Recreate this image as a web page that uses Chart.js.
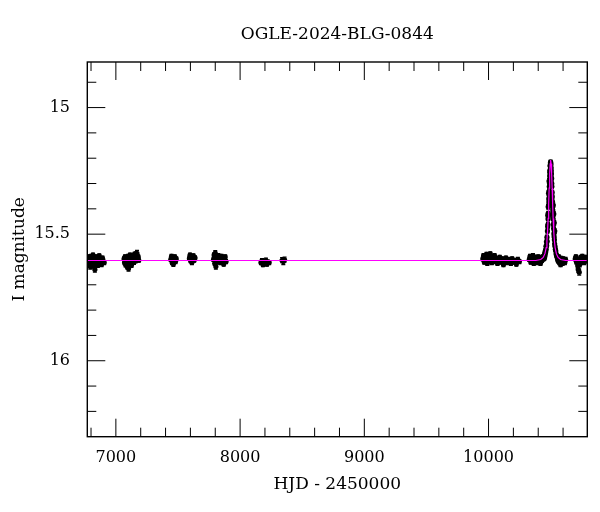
<!DOCTYPE html>
<html>
<head>
<meta charset="utf-8">
<script src="https://cdn.jsdelivr.net/npm/chart.js@4.4.0/dist/chart.umd.min.js"></script>
<style>
  html, body { margin: 0; padding: 0; background: #fff; }
  #wrap { width: 600px; height: 512px; }
</style>
</head>
<body>
<div id="wrap"><canvas id="lc" width="600" height="512"></canvas></div>
<script>
// photometry per season: [HJD - 2450000, I mag, error]
const season2014 = [
  [6772,15.598,0.008],[6776,15.612,0.008],[6779,15.590,0.008],[6783,15.605,0.008],
  [6787,15.620,0.009],[6790,15.596,0.008],[6794,15.628,0.010],[6797,15.609,0.008],
  [6801,15.588,0.008],[6805,15.615,0.009],[6808,15.600,0.008],[6812,15.625,0.009],
  [6816,15.583,0.008],[6820,15.606,0.008],[6824,15.594,0.008],[6828,15.618,0.009],
  [6831,15.640,0.010],[6835,15.602,0.008],[6840,15.590,0.008],[6845,15.611,0.008],
  [6850,15.597,0.008],[6855,15.622,0.009],[6860,15.604,0.008],[6866,15.586,0.008],
  [6872,15.613,0.008],[6878,15.600,0.008],[6885,15.619,0.009],[6892,15.595,0.008],
  [6899,15.607,0.008],[6906,15.612,0.008]
];
const season2015 = [
  [7066,15.598,0.008],[7070,15.612,0.008],[7074,15.590,0.008],[7078,15.620,0.009],
  [7082,15.603,0.008],[7086,15.594,0.008],[7090,15.628,0.009],[7094,15.608,0.008],
  [7098,15.588,0.008],[7102,15.636,0.010],[7106,15.615,0.008],[7110,15.599,0.008],
  [7114,15.583,0.008],[7118,15.610,0.008],[7122,15.597,0.008],[7126,15.622,0.009],
  [7130,15.605,0.008],[7134,15.586,0.008],[7138,15.601,0.008],[7142,15.590,0.008],
  [7146,15.611,0.008],[7150,15.580,0.008],[7154,15.598,0.008],[7158,15.578,0.008],
  [7162,15.605,0.008],[7166,15.584,0.008],[7170,15.576,0.012],[7175,15.595,0.008],
  [7180,15.590,0.008],[7184,15.603,0.008]
];
const season2016a = [
  [7442,15.600,0.008],[7448,15.588,0.008],[7453,15.612,0.008],[7458,15.596,0.008],
  [7463,15.618,0.009],[7468,15.604,0.008],[7474,15.590,0.008],[7480,15.608,0.008],
  [7486,15.598,0.008]
];
const season2016b = [
  [7592,15.596,0.008],[7597,15.583,0.008],[7602,15.605,0.008],[7607,15.590,0.008],
  [7612,15.612,0.008],[7618,15.598,0.008],[7624,15.586,0.008],[7630,15.603,0.008],
  [7637,15.594,0.008]
];
const season2017 = [
  [7786,15.600,0.008],[7791,15.582,0.008],[7796,15.615,0.008],[7800,15.575,0.010],
  [7805,15.628,0.010],[7810,15.597,0.008],[7815,15.590,0.008],[7820,15.610,0.008],
  [7825,15.585,0.008],[7830,15.604,0.008],[7840,15.596,0.008],[7845,15.612,0.008],
  [7850,15.588,0.008],[7856,15.605,0.008],[7862,15.593,0.008],[7868,15.618,0.008],
  [7874,15.600,0.008],[7880,15.590,0.008],[7887,15.608,0.008]
];
const season2018 = [
  [8168,15.612,0.008],[8176,15.605,0.008],[8184,15.620,0.008],[8192,15.608,0.008],
  [8200,15.615,0.008],[8208,15.603,0.008],[8216,15.618,0.008],[8225,15.610,0.008],
  [8234,15.612,0.008]
];
const season2018b = [
  [8338,15.603,0.010],[8348,15.608,0.012],[8358,15.601,0.010]
];
const season2023 = [
  [9954,15.598,0.008],[9960,15.585,0.008],[9966,15.610,0.008],[9972,15.592,0.008],
  [9978,15.604,0.008],[9984,15.580,0.008],[9990,15.615,0.008],[9996,15.598,0.008],
  [10002,15.588,0.008],[10008,15.606,0.008],[10014,15.578,0.008],[10020,15.600,0.008],
  [10026,15.612,0.008],[10032,15.590,0.008],[10040,15.603,0.008],[10048,15.585,0.008],
  [10056,15.608,0.008],[10064,15.596,0.008],[10072,15.615,0.008],[10080,15.600,0.008],
  [10090,15.592,0.008],[10100,15.610,0.008],[10110,15.598,0.008],[10120,15.620,0.008],
  [10130,15.603,0.008],[10140,15.595,0.008],[10150,15.612,0.008],[10160,15.600,0.008],
  [10170,15.606,0.008],[10180,15.615,0.008],[10190,15.598,0.008],[10200,15.610,0.008],
  [10212,15.604,0.008],[10224,15.618,0.008],[10236,15.600,0.008],[10248,15.608,0.008]
];
const season2024 = [
  [10328,15.600,0.008],[10334,15.588,0.008],[10340,15.610,0.008],[10346,15.596,0.008],
  [10352,15.605,0.008],[10358,15.585,0.008],[10364,15.615,0.008],[10370,15.598,0.008],
  [10376,15.606,0.008],[10382,15.592,0.008],[10388,15.612,0.008],[10394,15.600,0.008],
  [10400,15.590,0.008],[10406,15.608,0.008],[10412,15.598,0.008],[10418,15.615,0.008],
  [10424,15.594,0.008],[10430,15.604,0.008],[10436,15.590,0.008],[10442,15.598,0.008],
  [10446,15.588,0.008],[10448,15.596,0.008],[10450,15.582,0.008],[10452,15.590,0.008],
  [10454,15.572,0.008],[10456,15.580,0.008],[10458,15.565,0.008],[10460,15.570,0.008],
  [10462,15.548,0.008],[10464,15.560,0.008],[10466,15.530,0.008],[10468,15.545,0.008],
  [10470,15.512,0.008],[10472,15.528,0.008],[10474,15.488,0.008],[10476,15.470,0.008],
  [10477,15.425,0.009],[10478,15.462,0.008],[10479,15.440,0.008],[10480,15.392,0.009],
  [10481,15.418,0.008],[10482,15.428,0.008],[10483,15.338,0.009],[10484,15.385,0.008],
  [10485,15.360,0.008],[10486,15.372,0.008],[10487,15.290,0.009],[10488,15.330,0.008],
  [10489,15.312,0.008],[10490,15.298,0.008],[10492,15.270,0.008],[10493,15.255,0.008],
  [10494,15.248,0.008],[10496,15.228,0.008],[10497,15.232,0.008],[10498,15.218,0.008],
  [10500,15.215,0.008],[10501,15.220,0.008],[10502,15.226,0.008],[10504,15.238,0.008],
  [10505,15.250,0.008],[10506,15.262,0.008],[10508,15.280,0.008],[10509,15.300,0.008],
  [10510,15.312,0.008],[10512,15.335,0.008],[10513,15.352,0.008],[10514,15.370,0.008],
  [10516,15.392,0.008],[10517,15.405,0.008],[10518,15.420,0.008],[10520,15.440,0.008],
  [10521,15.385,0.009],[10522,15.462,0.008],[10524,15.478,0.008],[10525,15.420,0.009],
  [10526,15.498,0.008],[10528,15.510,0.008],[10529,15.455,0.009],[10530,15.522,0.008],
  [10532,15.538,0.008],[10533,15.488,0.009],[10535,15.548,0.008],[10538,15.560,0.008],
  [10541,15.566,0.008],[10544,15.578,0.008],[10548,15.585,0.008],[10552,15.590,0.008],
  [10555,15.598,0.008],[10560,15.606,0.008],[10565,15.590,0.008],[10570,15.612,0.008],
  [10575,15.600,0.008],[10580,15.620,0.008],[10585,15.596,0.008],[10590,15.608,0.008],
  [10596,15.615,0.008],[10602,15.598,0.008],[10608,15.605,0.008],[10614,15.612,0.008],
  [10620,15.600,0.008]
];
const season2025 = [
  [10698,15.598,0.008],[10703,15.590,0.008],[10708,15.610,0.008],[10713,15.600,0.008],
  [10718,15.625,0.009],[10722,15.640,0.010],[10726,15.615,0.008],[10730,15.650,0.012],
  [10734,15.620,0.009],[10738,15.605,0.008],[10742,15.592,0.008],[10746,15.612,0.008],
  [10750,15.600,0.008],[10755,15.588,0.008],[10760,15.606,0.008],[10765,15.596,0.008],
  [10770,15.612,0.008],[10776,15.600,0.008],[10782,15.592,0.008],[10788,15.605,0.008]
];

// microlensing model curve
const modelCurve = [
  [6770,15.604],[10380,15.604],[10420,15.600],[10440,15.592],[10454,15.577],
  [10464,15.553],[10470,15.525],[10475,15.490],[10480,15.438],[10484,15.380],
  [10488,15.318],[10492,15.262],[10496,15.222],[10500,15.207],[10504,15.222],
  [10508,15.262],[10512,15.318],[10516,15.380],[10520,15.438],[10525,15.490],
  [10530,15.525],[10536,15.553],[10546,15.577],[10560,15.592],[10580,15.600],
  [10620,15.604],[10795,15.604]
];

const xMajor = [7000, 8000, 9000, 10000];
const xMinor = [6800, 7200, 7400, 7600, 7800, 8200, 8400, 8600, 8800,
                9200, 9400, 9600, 9800, 10200, 10400, 10600];
const yMajor = [15, 15.5, 16];
const yMinor = [14.9, 15.1, 15.2, 15.3, 15.4, 15.6, 15.7, 15.8, 15.9, 16.1, 16.2];

const seasons = [season2014, season2015, season2016a, season2016b, season2017,
                 season2018, season2018b, season2023, season2024, season2025];
const obs = [];
seasons.forEach(s => s.forEach(p => obs.push({ x: p[0], y: p[1], err: p[2] })));
const model = modelCurve.map(p => ({ x: p[0], y: p[1] }));

const serif = 'DejaVu Serif';

// error bars under the dots
const errorBars = {
  id: 'errorBars',
  beforeDatasetsDraw(chart) {
    const { ctx, chartArea: a, scales: { x, y } } = chart;
    const ds = chart.data.datasets[1].data;
    ctx.save();
    ctx.beginPath();
    ctx.rect(a.left, a.top, a.width, a.height);
    ctx.clip();
    ctx.strokeStyle = '#000';
    ctx.lineWidth = 1.2;
    ctx.beginPath();
    ds.forEach(d => {
      const px = x.getPixelForValue(d.x);
      const y1 = y.getPixelForValue(d.y - d.err);
      const y2 = y.getPixelForValue(d.y + d.err);
      ctx.moveTo(px, y1); ctx.lineTo(px, y2);
      ctx.moveTo(px - 2, y1); ctx.lineTo(px + 2, y1);
      ctx.moveTo(px - 2, y2); ctx.lineTo(px + 2, y2);
    });
    ctx.stroke();
    ctx.restore();
  }
};

// box + inward ticks on all four sides
const frameTicks = {
  id: 'frameTicks',
  afterDraw(chart) {
    const { ctx, chartArea: a, scales: { x, y } } = chart;
    ctx.save();
    ctx.strokeStyle = '#000';
    ctx.lineWidth = 1;
    ctx.beginPath();
    const xt = (v, len) => {
      const p = x.getPixelForValue(v);
      ctx.moveTo(p, a.bottom); ctx.lineTo(p, a.bottom - len);
      ctx.moveTo(p, a.top); ctx.lineTo(p, a.top + len);
    };
    const yt = (v, len) => {
      const p = y.getPixelForValue(v);
      ctx.moveTo(a.left, p); ctx.lineTo(a.left + len, p);
      ctx.moveTo(a.right, p); ctx.lineTo(a.right - len, p);
    };
    xMajor.forEach(v => xt(v, 18));
    xMinor.forEach(v => xt(v, 9));
    yMajor.forEach(v => yt(v, 18));
    yMinor.forEach(v => yt(v, 9));
    ctx.stroke();
    ctx.lineWidth = 1.4;
    ctx.strokeRect(a.left, a.top, a.width, a.height);
    ctx.restore();
  }
};

new Chart(document.getElementById('lc'), {
  type: 'scatter',
  data: {
    datasets: [
      {
        label: 'model',
        data: model,
        showLine: true,
        borderColor: '#ff00ff',
        borderWidth: 1.2,
        pointRadius: 0,
        tension: 0
      },
      {
        label: 'OGLE',
        data: obs,
        backgroundColor: '#000',
        borderWidth: 0,
        pointRadius: 2.6
      }
    ]
  },
  options: {
    responsive: false,
    animation: false,
    devicePixelRatio: 1,
    layout: { padding: { left: 0, right: 12.7, top: 0, bottom: 0 } },
    plugins: {
      legend: { display: false },
      tooltip: { enabled: false },
      title: {
        display: true,
        fullSize: false,
        text: 'OGLE-2024-BLG-0844',
        color: '#000',
        font: { family: serif, size: 17, weight: 'normal' },
        padding: { top: 24.8, bottom: 16.8 }
      }
    },
    scales: {
      x: {
        type: 'linear',
        min: 6770,
        max: 10795,
        grid: { display: false },
        border: { display: false },
        afterBuildTicks: s => { s.ticks = xMajor.map(v => ({ value: v })); },
        afterFit: s => { s.height = 75.3; },
        ticks: {
          autoSkip: false,
          maxRotation: 0,
          padding: 3.4,
          color: '#000',
          font: { family: serif, size: 16 },
          callback: v => String(v)
        },
        title: {
          display: true,
          text: 'HJD - 2450000',
          color: '#000',
          font: { family: serif, size: 17 },
          padding: { top: 0, bottom: 16.8 }
        }
      },
      y: {
        type: 'linear',
        reverse: true,
        min: 14.82,
        max: 16.3,
        grid: { display: false },
        border: { display: false },
        afterBuildTicks: s => { s.ticks = yMajor.map(v => ({ value: v })); },
        afterFit: s => { s.width = 87.3; },
        ticks: {
          autoSkip: false,
          padding: 9.3,
          color: '#000',
          font: { family: serif, size: 16 },
          callback: v => String(v)
        },
        title: {
          display: true,
          text: 'I magnitude',
          color: '#000',
          font: { family: serif, size: 17 },
          padding: { top: 9.8, bottom: 0 }
        }
      }
    }
  },
  plugins: [errorBars, frameTicks]
});
</script>
</body>
</html>
